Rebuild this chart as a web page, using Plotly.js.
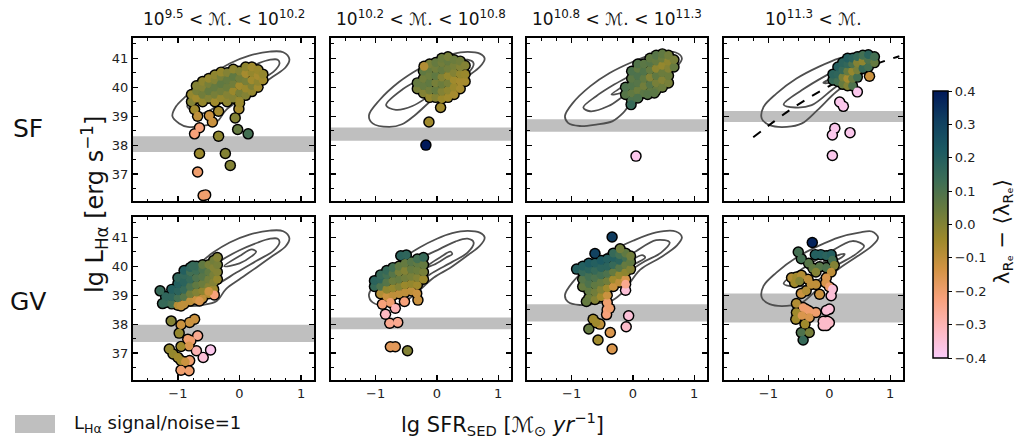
<!DOCTYPE html>
<html>
<head>
<meta charset="utf-8">
<script src="https://cdn.plot.ly/plotly-3.0.1.min.js"></script>
<style>
  body { margin: 0; background: #fff; }
  #chart { width: 1024px; height: 447px; }
</style>
</head>
<body>
<div id="chart"></div>
<script>
// ---- data ----
// SF row, mass bin 1..4 : lg SFR, lg L_Ha, lambda_Re - <lambda_Re>
const sf1X = [-0.78,-0.78,-0.7,-0.7,-0.7,-0.6,-0.6,-0.6,-0.6,-0.5,-0.5,-0.5,-0.5,-0.4,-0.4,-0.4,-0.4,-0.4,-0.3,-0.3,-0.3,-0.3,-0.3,-0.2,-0.2,-0.2,-0.2,-0.2,-0.1,-0.1,-0.1,-0.1,-0.1,0,0,0,0,0,0.1,0.1,0.1,0.1,0.1,0.2,0.2,0.2,0.2,0.2,0.3,0.3,0.3,0.3,0.38,0.38,
  -0.73,-0.68,-0.49,-0.44,-0.34,-0.65,-0.73,-0.34,-0.07,-0.01,0,-0.03,0.14,-0.65,-0.23,-0.15,-0.68,-0.59,-0.55];
const sf1Y = [39.5,39.75,39.62,39.87,40.05,39.5,39.75,40,40.2,39.62,39.87,40.12,40.3,39.5,39.75,40,40.25,40.42,39.62,39.87,40.12,40.37,40.52,39.5,39.75,40,40.25,40.5,39.62,39.87,40.12,40.37,40.62,39.55,39.8,40.05,40.3,40.55,39.72,39.97,40.22,40.47,40.7,39.85,40.05,40.25,40.5,40.7,40,40.2,40.4,40.6,40.25,40.45,
  39.23,39,39.02,38.8,39.17,38.6,38.39,38.31,38.94,39.25,39.45,38.54,38.39,37.71,37.71,37.3,37.07,36.26,36.28];
const sf1C = [0,-0.03,-0.05,0.02,0,-0.03,0.03,0,-0.02,0,0.05,0.02,-0.03,-0.05,0.02,0.05,0,-0.02,-0.03,0.03,0.06,0.02,-0.03,-0.02,0,0.04,0.05,0,0,-0.04,0.03,0.06,-0.02,-0.03,0.02,-0.05,0.03,0,0,-0.04,0.02,-0.06,-0.02,-0.03,0.01,-0.05,-0.03,-0.05,-0.05,-0.02,-0.06,-0.04,-0.05,-0.03,
  -0.05,-0.1,-0.12,-0.12,-0.06,-0.22,-0.22,-0.02,0,-0.06,-0.04,0.05,0.12,-0.04,0,0,-0.2,-0.2,-0.2];

const sf2X = [-0.32,-0.32,-0.22,-0.22,-0.22,-0.22,-0.12,-0.12,-0.12,-0.12,-0.12,-0.12,-0.02,-0.02,-0.02,-0.02,-0.02,-0.02,0.08,0.08,0.08,0.08,0.08,0.08,0.08,0.18,0.18,0.18,0.18,0.18,0.18,0.18,0.28,0.28,0.28,0.28,0.28,0.28,0.38,0.38,0.38,0.38,0.38,0.46,0.46,0.46,
  -0.21,0.06,-0.13,-0.18];
const sf2Y = [39.95,40.15,39.8,40.05,40.3,40.55,39.65,39.9,40.15,40.4,40.65,40.8,39.65,39.9,40.15,40.4,40.65,40.85,39.6,39.85,40.1,40.35,40.6,40.85,41,39.65,39.9,40.15,40.4,40.65,40.9,41.05,39.75,40,40.25,40.5,40.75,40.95,39.95,40.2,40.45,40.7,40.9,40.2,40.45,40.75,
  40.72,39.3,38.8,38];
const sf2C = [0.02,0.05,0,0.05,0.03,0.06,-0.03,0.03,0.06,0.04,0.05,0.02,0,0.05,0.02,0.06,0.03,0.05,-0.04,0,0.04,0,0.05,0.03,0.04,-0.05,-0.02,0.02,-0.03,0.03,0.05,0.02,-0.06,-0.04,-0.05,0,0.02,0.04,-0.06,-0.06,-0.03,0,0.03,-0.06,-0.04,0,
  -0.08,-0.05,-0.05,0.4];

const sf3X = [-0.12,-0.12,-0.02,-0.02,-0.02,-0.02,-0.02,0.08,0.08,0.08,0.08,0.08,0.08,0.18,0.18,0.18,0.18,0.18,0.28,0.28,0.28,0.28,0.28,0.28,0.38,0.38,0.38,0.38,0.38,0.38,0.48,0.48,0.48,0.48,0.48,0.48,0.58,0.58,0.58,0.58,0.58,0.67,0.67,
  -0.03,0.08,0.24,0.35,0.05];
const sf3Y = [39.75,40,39.55,39.8,40.05,40.3,40.55,39.65,39.9,40.15,40.4,40.65,40.8,39.8,40.05,40.3,40.55,40.8,39.85,40.1,40.35,40.6,40.85,41,39.9,40.15,40.4,40.65,40.9,41.1,40,40.25,40.5,40.75,41,41.15,40.15,40.4,40.65,40.9,41.1,40.7,40.95,
  39.4,39.63,39.75,39.8,37.62];
const sf3C = [0.08,0.1,0.1,0.06,0.09,0.07,0.1,0.08,0.04,0.08,0.1,0.06,0.09,0.07,0.03,0.06,0.09,0.07,0.06,0.08,0,0.05,0.08,0.06,0.05,0.02,0.06,-0.02,0.05,0.08,0.04,0,0.04,-0.03,0.04,0.06,0.02,0.04,0,-0.02,0.03,0.05,0.02,
  0.15,0.1,0.08,0.07,-0.38];

const sf4X = [0.06,0.06,0.14,0.14,0.14,0.22,0.22,0.22,0.22,0.3,0.3,0.3,0.3,0.3,0.38,0.38,0.38,0.38,0.38,0.46,0.46,0.46,0.46,0.55,0.55,0.55,0.64,0.64,0.64,0.74,0.74,
  0.66,0.46,0.17,0.23,0.09,0.05,0.34,0.05];
const sf4Y = [40.25,40.45,40.2,40.45,40.7,40.1,40.35,40.6,40.85,40.05,40.3,40.55,40.8,41,40.05,40.3,40.55,40.8,41,40.35,40.6,40.85,41.05,40.65,40.9,41.1,40.7,40.95,41.12,40.85,41.05,
  40.38,39.84,39.49,39.34,38.58,38.35,38.43,37.64];
const sf4C = [0.15,0.18,0.12,0.17,0.2,0.05,0.02,0.15,0.18,0,-0.06,0.05,0.16,0.2,0.1,0.05,-0.03,0.1,0.18,0.12,0.02,0,0.15,0.15,-0.02,0.12,0.12,0.1,0.18,0.05,0.12,
  -0.12,-0.38,-0.38,-0.38,-0.38,-0.38,-0.38,-0.38];

// GV row
const gv1X = [-1.2,-1.2,-1.1,-1.1,-1.1,-1,-1,-1,-1,-1,-0.9,-0.9,-0.9,-0.9,-0.9,-0.9,-0.8,-0.8,-0.8,-0.8,-0.8,-0.8,-0.7,-0.7,-0.7,-0.7,-0.7,-0.7,-0.6,-0.6,-0.6,-0.6,-0.6,-0.6,-0.5,-0.5,-0.5,-0.5,-0.5,-0.42,-0.42,-0.42,-0.42,-0.42,-0.36,-0.36,-0.36,-0.36,
  -1.29,-1.25,-0.95,-0.65,-0.41,-0.5,-0.76,-1.11,-0.95,-0.81,-0.73,-0.98,-0.84,-0.79,-0.68,-0.82,-0.95,-0.7,-0.47,-0.59,-1.14,-1.08,-1,-0.95,-0.81,-0.95,-0.82,-0.88];
const gv1Y = [38.75,38.95,38.7,38.95,39.2,38.65,38.9,39.15,39.4,39.6,38.7,38.95,39.2,39.45,39.7,39.85,38.8,39.05,39.3,39.55,39.8,39.95,38.85,39.1,39.35,39.6,39.85,40,38.9,39.15,39.4,39.65,39.9,40.05,39.05,39.3,39.55,39.8,40.05,39.2,39.45,39.7,39.95,40.2,39.55,39.8,40.05,40.3,
  39.15,38.71,38.63,38.8,39.01,39.13,40.01,38.11,37.98,38.06,38.17,37.69,37.48,37.43,37.6,37.25,37.23,37.08,37.11,36.85,37.14,36.97,36.85,36.74,36.74,36.41,36.39,36.7];
const gv1C = [0.15,0.17,0.12,0.17,0.2,-0.08,0.12,0.18,0.2,0.17,-0.1,0.08,0.15,0.18,0.16,0.2,-0.1,0.03,0.1,0.15,0.12,0.17,-0.12,0,0.06,0.1,0.13,0.15,-0.1,-0.02,0.04,0.08,0.1,0.06,-0.08,0,0.03,0.06,0.02,-0.05,0,0.02,0,0.03,-0.03,0,0.02,0,
  0.15,0.15,-0.1,-0.15,-0.22,-0.12,0.15,0,-0.12,-0.12,-0.12,-0.03,-0.2,-0.2,-0.25,-0.15,-0.05,-0.3,-0.38,-0.35,-0.03,-0.03,-0.05,-0.05,-0.2,-0.2,-0.2,-0.12];

const gv2X = [-1.02,-1.02,-0.92,-0.92,-0.92,-0.92,-0.82,-0.82,-0.82,-0.82,-0.82,-0.72,-0.72,-0.72,-0.72,-0.72,-0.62,-0.62,-0.62,-0.62,-0.62,-0.52,-0.52,-0.52,-0.52,-0.52,-0.42,-0.42,-0.42,-0.42,-0.42,-0.32,-0.32,-0.32,-0.32,-0.32,-0.22,-0.22,-0.22,-0.22,
  -0.59,-0.5,-0.33,-0.31,-0.53,-0.76,-0.68,-0.84,-0.89,-0.77,-0.64,-0.76,-0.68,-0.48];
const gv2Y = [39.3,39.5,39.05,39.3,39.55,39.7,38.95,39.2,39.45,39.7,39.85,39,39.25,39.5,39.75,39.95,39.05,39.3,39.55,39.8,40,39.1,39.35,39.6,39.85,40.1,39.15,39.4,39.65,39.9,40.15,39.35,39.6,39.85,40.1,40.25,39.55,39.8,40.05,40.3,
  40.36,40.39,39.06,38.83,38.78,38.75,38.55,38.34,38.69,38.03,38.06,37.22,37.22,37.08];
const gv2C = [0.15,0.18,-0.08,0.1,0.17,0.15,-0.12,-0.02,0.08,0.12,0.15,-0.1,-0.03,0.04,0.08,0.12,-0.1,0,0.05,0.02,0.06,-0.1,-0.04,0.03,0,0.05,-0.1,-0.03,0.02,0.05,0.08,-0.05,0,0.04,0.06,0.12,-0.04,0.02,0.05,0.15,
  0.18,0.17,-0.12,-0.12,-0.22,-0.2,-0.3,-0.32,-0.22,-0.25,-0.25,-0.17,-0.17,0];

const gv3X = [-0.92,-0.82,-0.82,-0.82,-0.82,-0.72,-0.72,-0.72,-0.72,-0.72,-0.72,-0.62,-0.62,-0.62,-0.62,-0.62,-0.62,-0.52,-0.52,-0.52,-0.52,-0.52,-0.52,-0.42,-0.42,-0.42,-0.42,-0.42,-0.42,-0.42,-0.42,-0.32,-0.32,-0.32,-0.32,-0.32,-0.32,-0.22,-0.22,-0.22,-0.22,-0.22,-0.12,-0.12,-0.12,-0.12,-0.12,-0.04,-0.04,-0.04,
  -0.34,-0.62,-0.21,-0.12,-0.12,-0.07,-0.11,-0.76,-0.72,-0.65,-0.57,-0.37,-0.34,-0.54,-0.43,-0.6,-0.38];
const gv3Y = [39.9,39.3,39.55,39.8,40,38.9,39.15,39.4,39.65,39.9,40.1,38.85,39.1,39.35,39.6,39.85,40.1,38.95,39.2,39.45,39.7,39.95,40.2,38.5,38.75,39,39.25,39.5,39.75,40,40.25,39.3,39.55,39.8,40.05,40.3,40.45,39.45,39.7,39.95,40.2,40.4,39.55,39.8,40.05,40.3,40.45,39.9,40.15,40.35,
  41.01,40.44,40.6,39.17,39.38,38.29,37.91,38.78,37.83,38.17,37.45,37.71,37.14,38,38.33,38.05,38.55];
const gv3C = [0.2,0.05,0.08,0.15,0.2,0.04,0.06,0.1,0.12,0.18,0.22,0,0.03,0.06,0.1,0.15,0.2,-0.05,0,0.05,0.12,0.18,0.22,-0.22,-0.2,-0.12,-0.05,0.03,0.1,0.18,0.2,-0.12,-0.05,0.05,0.15,0.2,0.15,-0.1,-0.03,0.08,0.18,0.12,-0.15,-0.02,0.05,0.12,0.06,0,0.06,0.03,
  0.32,0.3,0.03,-0.35,-0.25,-0.35,-0.33,0.05,0.05,-0.05,-0.05,-0.15,-0.15,-0.1,-0.22,-0.05,-0.2];

const gv4X = [-0.28,-0.51,-0.46,-0.23,-0.14,-0.05,0.03,0.05,-0.34,-0.27,-0.16,-0.05,0.08,0.03,-0.22,-0.62,-0.54,-0.46,-0.57,-0.49,-0.35,-0.3,-0.22,-0.05,-0.06,0,0.05,0.03,-0.46,-0.16,-0.38,-0.54,-0.43,-0.38,-0.33,-0.22,-0.54,-0.55,-0.33,-0.4,-0.45,-0.05,0,-0.1,-0.05,0,-0.1,-0.03,-0.46,-0.33,-0.43];
const gv4Y = [40.82,40.49,40.26,40.4,40.4,40.36,40.4,40.21,40.1,39.93,39.98,39.95,40.03,39.8,39.8,39.6,39.63,39.69,39.43,39.49,39.55,39.37,39.37,39.6,39.43,39.29,39.21,38.98,39.06,39.03,39.15,38.71,38.57,38.51,38.45,38.4,38.4,38.17,38.23,38,38.3,38.47,38.52,38.1,37.95,38.05,37.95,38.1,37.71,37.71,37.45];
const gv4C = [0.38,0.12,0.12,0.2,0.2,0.18,0.2,0.12,0.08,0.06,0.08,0.1,0,-0.1,0,-0.08,-0.05,-0.08,-0.05,0,-0.1,-0.1,-0.1,-0.15,-0.15,-0.2,-0.35,-0.35,-0.12,-0.12,-0.08,-0.08,-0.2,-0.2,-0.2,-0.2,-0.05,-0.05,-0.15,-0.05,-0.15,-0.35,-0.35,-0.33,-0.33,-0.33,-0.33,-0.33,0.1,0.02,0.15];

// L_Ha signal/noise = 1 band per panel
const sfBandLo = [37.76, 38.15, 38.46, 38.80];
const sfBandHi = [38.31, 38.61, 38.89, 39.18];
const gvBandLo = [37.38, 37.82, 38.09, 38.06];
const gvBandHi = [37.98, 38.23, 38.69, 39.06];

// density contours of the parent sample, one set per mass bin
const outerX = [
  [-1.09,-1.03,-0.87,-0.62,-0.43,-0.16,0.16,0.49,0.71,0.81,0.75,0.54,0.27,0,-0.22,-0.37,-0.6,-0.84,-0.98,-1.09],
  [-1.11,-0.94,-0.62,-0.29,0,0.25,0.5,0.7,0.78,0.7,0.49,0.22,-0.05,-0.35,-0.57,-0.78,-1.05,-1.11],
  [-1.11,-0.98,-0.7,-0.38,0,0.38,0.7,0.8,0.72,0.45,0.12,-0.16,-0.33,-0.6,-0.87,-1.06,-1.11],
  [-1.11,-1.08,-0.87,-0.54,-0.16,0.16,0.49,0.7,0.8,0.7,0.43,0.12,-0.2,-0.45,-0.7,-0.98,-1.11]];
const outerY = [
  [39.0,39.34,39.69,40.15,40.47,40.82,41.09,41.23,41.21,40.97,40.69,40.36,39.95,39.55,39.21,38.8,38.66,38.63,38.75,39.0],
  [39.03,39.55,40.18,40.64,40.95,41.14,41.22,41.16,40.99,40.7,40.36,39.95,39.61,39.05,38.72,38.63,38.75,39.03],
  [39.0,39.46,40.03,40.49,40.88,41.17,41.2,41.0,40.72,40.3,39.88,39.11,38.83,38.71,38.66,38.77,39.0],
  [38.92,39.32,39.78,40.3,40.72,41.0,41.16,41.2,40.99,40.7,40.3,39.85,39.2,38.75,38.63,38.69,38.92]];
const midX = [
  [-0.85,-0.6,-0.3,0,0.3,0.5,0.62,0.65,0.55,0.27,-0.05,-0.3,-0.6,-0.85],
  [-0.83,-0.56,-0.25,0.05,0.3,0.5,0.6,0.5,0.25,-0.05,-0.4,-0.67,-0.83],
  [-0.81,-0.6,-0.3,0,0.38,0.6,0.46,0.16,-0.15,-0.4,-0.7,-0.81],
  [-0.75,-0.45,-0.05,0.38,0.57,0.43,0.1,-0.29,-0.56,-0.75]];
const midY = [
  [39.35,39.75,40.2,40.55,40.82,40.95,40.95,40.82,40.53,40.18,39.78,39.45,39.1,39.35],
  [39.38,39.93,40.3,40.6,40.85,40.95,40.82,40.47,40.15,39.8,39.35,39.22,39.38],
  [39.3,39.69,40.1,40.45,40.9,40.82,40.47,40.13,39.7,39.35,39.17,39.3],
  [39.4,39.9,40.41,40.87,40.7,40.41,40.0,39.38,39.3,39.4]];
const innerX = [
  [-0.25,0,0.2,0.27,0.2,0,-0.25],
  [-0.2,0.05,0.22,0.25,0.15,-0.05,-0.2],
  [-0.35,-0.1,0.15,0.2,0.05,-0.2,-0.35],
  [-0.1,0.1,0.25,0.2,0,-0.1]];
const innerY = [
  [40.0,40.35,40.58,40.5,40.35,40.1,40.0],
  [39.95,40.3,40.5,40.42,40.3,40.05,39.95],
  [39.75,40.1,40.38,40.3,40.1,39.8,39.75],
  [40.15,40.35,40.42,40.3,40.15,40.15]];

// dashed relation in the highest-mass SF panel
const relX = [-1.25,-0.9,-0.6,-0.3,0,0.3,0.6,0.9,1.15];
const relY = [38.27,38.83,39.28,39.68,40.04,40.36,40.65,40.9,41.07];

const colTitles = [
  '10<sup>9.5</sup> < ℳ. < 10<sup>10.2</sup>',
  '10<sup>10.2</sup> < ℳ. < 10<sup>10.8</sup>',
  '10<sup>10.8</sup> < ℳ. < 10<sup>11.3</sup>',
  '10<sup>11.3</sup> < ℳ.'];
const rowNames = ['SF', 'GV'];

// batlow, pink (-0.4) to navy (+0.4)
const batlow = [
  [0, '#FACCFA'], [1/9, '#FDB7BC'], [2/9, '#F8A17B'], [3/9, '#D29343'], [4/9, '#9D892B'],
  [5/9, '#687B3E'], [6/9, '#3C6D56'], [7/9, '#1C5A62'], [8/9, '#103F60'], [1, '#011959']];

// ---- layout geometry (pixels) ----
const W = 1024, H = 447;
const colL = [133, 331, 527, 724], colR = [314, 511, 707, 903];
const rowT = [38, 217], rowB = [201, 380];
const font = 'DejaVu Sans, Liberation Sans, sans-serif';

const panels = [
  [sf1X, sf1Y, sf1C], [sf2X, sf2Y, sf2C], [sf3X, sf3Y, sf3C], [sf4X, sf4Y, sf4C],
  [gv1X, gv1Y, gv1C], [gv2X, gv2Y, gv2C], [gv3X, gv3Y, gv3C], [gv4X, gv4Y, gv4C]];

let traces = [];
let shapes = [];
let annotations = [];
let layout = {
  width: W, height: H,
  margin: { l: 0, r: 0, t: 0, b: 0 },
  paper_bgcolor: '#fff', plot_bgcolor: '#fff',
  showlegend: false,
  font: { family: font, color: '#000' },
};

for (let i = 0; i < 8; ++i) {
  let r = Math.floor(i / 4), c = i % 4;
  let n = i + 1;
  let xa = 'x' + (n == 1 ? '' : n), ya = 'y' + (n == 1 ? '' : n);

  layout['xaxis' + (n == 1 ? '' : n)] = {
    domain: [colL[c] / W, colR[c] / W],
    anchor: ya,
    range: [-1.73, 1.21],
    dtick: 1, tick0: 0,
    showticklabels: r == 1,
    tickfont: { size: 13, color: '#222' },
    ticks: 'inside', ticklen: 5, tickwidth: 1.2, tickcolor: '#000',
    minor: { dtick: 0.25, ticks: 'inside', ticklen: 2.5, tickwidth: 1, tickcolor: '#000' },
    showline: true, linewidth: 2, linecolor: '#000', mirror: 'allticks',
    showgrid: false, zeroline: false,
  };
  layout['yaxis' + (n == 1 ? '' : n)] = {
    domain: [1 - rowB[r] / H, 1 - rowT[r] / H],
    anchor: xa,
    range: [36.07, 41.7],
    dtick: 1, tick0: 0,
    showticklabels: c == 0,
    tickfont: { size: 13, color: '#222' },
    ticks: 'inside', ticklen: 5, tickwidth: 1.2, tickcolor: '#000',
    minor: { dtick: 0.5, ticks: 'inside', ticklen: 2.5, tickwidth: 1, tickcolor: '#000' },
    showline: true, linewidth: 2, linecolor: '#000', mirror: 'allticks',
    showgrid: false, zeroline: false,
  };

  // signal/noise band
  let lo = r == 0 ? sfBandLo[c] : gvBandLo[c];
  let hi = r == 0 ? sfBandHi[c] : gvBandHi[c];
  shapes.push({
    type: 'rect', layer: 'below',
    xref: xa + ' domain', x0: 0, x1: 1,
    yref: ya, y0: lo, y1: hi,
    fillcolor: '#bfbfbf', line: { width: 0 },
  });

  // contours
  [[outerX, outerY], [midX, midY], [innerX, innerY]].forEach(([cx, cy]) => {
    traces.push({
      x: cx[c], y: cy[c], xaxis: xa, yaxis: ya,
      mode: 'lines', type: 'scatter', hoverinfo: 'skip',
      line: { color: '#4f4f4f', width: 1.8, shape: 'spline', smoothing: 1 },
    });
  });

  if (r == 0 && c == 3) {
    traces.push({
      x: relX, y: relY, xaxis: xa, yaxis: ya,
      mode: 'lines', type: 'scatter', hoverinfo: 'skip',
      line: { color: '#000', width: 2, dash: 'dash', shape: 'spline' },
    });
  }

  let [px, py, pc] = panels[i];
  // black rings underneath, coloured discs on top
  traces.push({
    x: px, y: py, xaxis: xa, yaxis: ya,
    mode: 'markers', type: 'scatter', hoverinfo: 'skip',
    marker: { size: 11.5, color: '#000', line: { width: 0 } },
  });
  traces.push({
    x: px, y: py, xaxis: xa, yaxis: ya,
    mode: 'markers', type: 'scatter', hoverinfo: 'skip',
    marker: {
      size: 8.6, color: pc, colorscale: batlow, cmin: -0.4, cmax: 0.4,
      line: { width: 0 },
      showscale: i == 0,
      colorbar: {
        x: 933 / W, xanchor: 'left', xpad: 0,
        y: 1 - 224.5 / H, yanchor: 'middle', ypad: 0,
        thickness: 15, lenmode: 'pixels', len: 267,
        outlinewidth: 1.5, outlinecolor: '#000',
        tickvals: [-0.4, -0.3, -0.2, -0.1, 0, 0.1, 0.2, 0.3, 0.4],
        tickformat: '.1f',
        ticks: 'outside', ticklen: 4, tickwidth: 1, tickcolor: '#000',
        tickfont: { size: 13, color: '#222' },
      },
    },
  });
}

// column titles
colTitles.forEach((t, c) => {
  annotations.push({
    text: t, xref: 'paper', yref: 'paper',
    x: (colL[c] + colR[c]) / 2 / W, y: 1 - 18 / H,
    xanchor: 'center', yanchor: 'middle', showarrow: false,
    font: { size: 17, color: '#111' },
  });
});
// row labels
rowNames.forEach((t, r) => {
  annotations.push({
    text: t, xref: 'paper', yref: 'paper',
    x: 28 / W, y: 1 - (r == 0 ? 128 : 301) / H,
    xanchor: 'center', yanchor: 'middle', showarrow: false,
    font: { size: 25, color: '#111' },
  });
});
// axis titles
annotations.push({
  text: 'lg L<sub>Hα</sub> [erg s<sup>−1</sup>]', xref: 'paper', yref: 'paper',
  x: 94 / W, y: 1 - 205 / H, textangle: -90,
  xanchor: 'center', yanchor: 'middle', showarrow: false,
  font: { size: 24, color: '#111' },
});
annotations.push({
  text: 'lg SFR<sub>SED</sub> [ℳ<sub>⊙</sub> <i>yr</i><sup>−1</sup>]', xref: 'paper', yref: 'paper',
  x: 502 / W, y: 1 - 424 / H,
  xanchor: 'center', yanchor: 'middle', showarrow: false,
  font: { size: 21, color: '#111' },
});
// colour bar title
annotations.push({
  text: 'λ<sub>Rₑ</sub> − ⟨λ<sub>Rₑ</sub>⟩', xref: 'paper', yref: 'paper',
  x: 1003 / W, y: 1 - 232 / H, textangle: -90,
  xanchor: 'center', yanchor: 'middle', showarrow: false,
  font: { size: 21, color: '#111' },
});
// legend for the grey band
shapes.push({
  type: 'rect', xref: 'paper', yref: 'paper',
  x0: 15 / W, x1: 55 / W, y0: 1 - 433 / H, y1: 1 - 415 / H,
  fillcolor: '#bfbfbf', line: { width: 0 },
});
annotations.push({
  text: 'L<sub>Hα</sub> signal/noise=1', xref: 'paper', yref: 'paper',
  x: 72 / W, y: 1 - 424 / H,
  xanchor: 'left', yanchor: 'middle', showarrow: false,
  font: { size: 18, color: '#111' },
});

layout.shapes = shapes;
layout.annotations = annotations;

Plotly.newPlot('chart', traces, layout, { displayModeBar: false, staticPlot: true });
</script>
</body>
</html>
